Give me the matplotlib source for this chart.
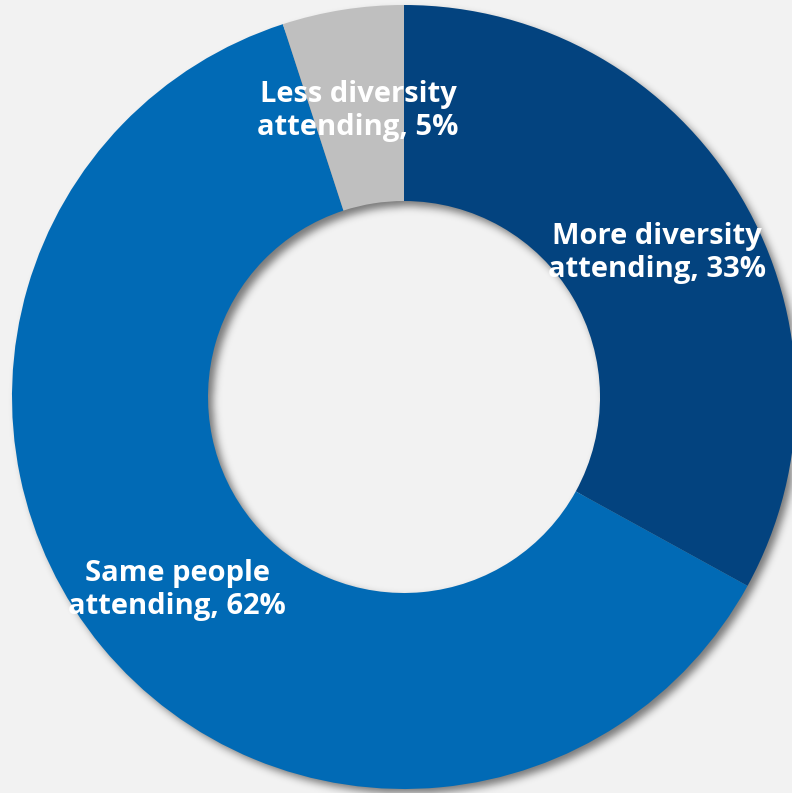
import numpy as np
import matplotlib
matplotlib.use("Agg")
import matplotlib.pyplot as plt

# survey breakdown, clockwise from 12 o'clock
categories = ["More diversity\nattending", "Same people\nattending", "Less diversity\nattending"]
shares = [33, 62, 5]
colors = ["#03437F", "#016AB5", "#BFBFBF"]
label_pos = [(0.645, 0.368), (-0.579, -0.492), (-0.117, 0.730)]

bg = "#F2F2F2"
W, H = 792, 793
cx, cy, R = 404, 397, 392   # centre and outer radius in pixels
hole = 0.5

fig = plt.figure(figsize=(W / 100, H / 100), dpi=100, facecolor=bg)
ax = fig.add_axes([0, 0, 1, 1])
ax.set_facecolor(bg)
x0, x1 = -cx / R, (W - cx) / R
y0, y1 = -(H - cy) / R, cy / R
ax.set_xlim(x0, x1)
ax.set_ylim(y0, y1)
ax.axis("off")

# soft drop shadow of the ring, shifted down-right and blurred
xs = np.linspace(x0, x1, W)
ys = np.linspace(y1, y0, H)
gx, gy = np.meshgrid(xs, ys)
off = 5 / R
rr = np.hypot(gx - off, gy + off)
mask = ((rr <= 1.0) & (rr >= hole)).astype(float)
k = np.exp(-0.5 * (np.arange(-12, 13) / 4.0) ** 2)
k /= k.sum()
mask = np.apply_along_axis(lambda m: np.convolve(m, k, mode="same"), 0, mask)
mask = np.apply_along_axis(lambda m: np.convolve(m, k, mode="same"), 1, mask)
shadow = np.zeros((H, W, 4))
shadow[..., 3] = mask * 0.5
ax.imshow(shadow, extent=(x0, x1, y0, y1), zorder=1, interpolation="bilinear")

ax.pie(shares, colors=colors, startangle=90, counterclock=False, radius=1,
       wedgeprops=dict(width=1 - hole, linewidth=0), frame=False)
for p in ax.patches:
    p.set_zorder(2)
ax.set_xlim(x0, x1)
ax.set_ylim(y0, y1)
ax.set_aspect("auto")

for name, val, (tx, ty) in zip(categories, shares, label_pos):
    ax.text(tx, ty, f"{name}, {val}%", ha="center", va="center",
            color="white", fontsize=21, fontweight="bold",
            family=["Open Sans", "DejaVu Sans"], linespacing=1.2, zorder=3)

fig.savefig("out.png", dpi=100, facecolor=bg)
